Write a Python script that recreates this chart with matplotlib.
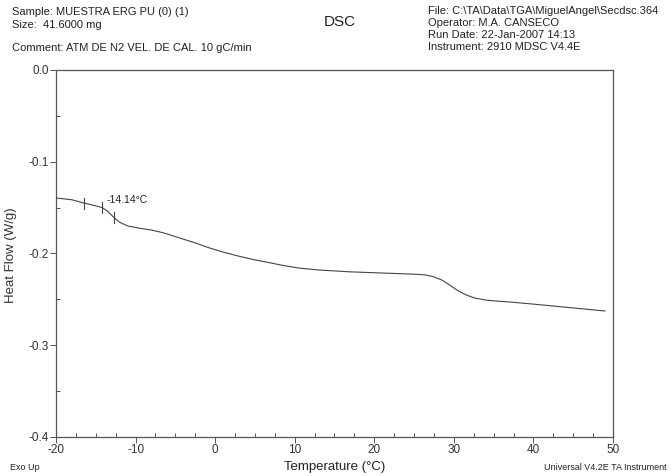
import numpy as np
import matplotlib.pyplot as plt
from matplotlib.ticker import MultipleLocator

plt.rcParams['font.family'] = ['Liberation Sans', 'DejaVu Sans']

# heat flow trace read from the DSC run
temp = [-20.0, -18.0, -16.5, -15.5, -14.2, -13.5, -12.7, -12.0, -11.0, -9.5,
        -8.0, -6.5, -4.5, -2.5, -0.7, 1.0, 3.0, 5.0, 6.8, 8.5, 10.6, 13.0,
        16.9, 20.0, 23.2, 25.5, 26.5, 27.5, 28.5, 29.5, 30.5, 31.5, 32.5,
        34.0, 35.5, 37.4, 40.0, 43.0, 46.0, 49.0]
heat_flow = [-0.1395, -0.1415, -0.1450, -0.1470, -0.1500, -0.1540, -0.1610,
             -0.1660, -0.1700, -0.1725, -0.1745, -0.1775, -0.1830, -0.1885,
             -0.1940, -0.1985, -0.2030, -0.2070, -0.2100, -0.2130, -0.2160,
             -0.2180, -0.2200, -0.2210, -0.2220, -0.2228, -0.2235, -0.2255,
             -0.2290, -0.2345, -0.2405, -0.2450, -0.2483, -0.2508, -0.2520,
             -0.2532, -0.2552, -0.2577, -0.2602, -0.2627]

# onset analysis marks
onset_marks = [-16.5, -14.2, -12.7]
onset_label = '-14.14°C'

xticks = [-20, -10, 0, 10, 20, 30, 40, 50]
yticks = [0.0, -0.1, -0.2, -0.3, -0.4]

fig = plt.figure(figsize=(6.71, 4.76), dpi=100)
ax = fig.add_axes([0.0835, 0.082, 0.830, 0.771])

ax.plot(temp, heat_flow, color='#444444', lw=0.8)

for t in onset_marks:
    y = np.interp(t, temp, heat_flow)
    ax.plot([t, t], [y + 0.006, y - 0.006], color='#444444', lw=0.8)
ax.text(onset_marks[1] + 0.5, np.interp(onset_marks[1], temp, heat_flow) + 0.003,
        onset_label, fontsize=7.5, color='#222222', va='bottom')

ax.set_xlim(-20, 50)
ax.set_ylim(-0.4, 0.0)
ax.set_xticks(xticks)
ax.set_xticklabels([str(v) for v in xticks])
ax.set_yticks(yticks)
ax.set_yticklabels(['%.1f' % v for v in yticks])
ax.xaxis.set_minor_locator(MultipleLocator(2.5))
ax.yaxis.set_minor_locator(MultipleLocator(0.05))
ax.tick_params(which='major', direction='out', length=4, width=0.7,
               color='#555555', labelsize=8.5, labelcolor='#333333', pad=1)
ax.tick_params(which='minor', direction='in', length=3, width=0.7, color='#555555')
for s in ax.spines.values():
    s.set_color('#555555')
    s.set_linewidth(0.9)

fig.text(335 / 671, 1 - 467 / 476, 'Temperature (°C)', ha='center', va='center',
         fontsize=9.5, color='#222222')
fig.text(11 / 671, 1 - 255 / 476, 'Heat Flow (W/g)', ha='center', va='center',
         rotation=90, fontsize=9.5, color='#333333')

# header block
hdr = dict(fontsize=8, color='#222222', va='center')
fig.text(12 / 671, 1 - 12 / 476, 'Sample: MUESTRA ERG PU (0) (1)', **hdr)
fig.text(12 / 671, 1 - 25 / 476, 'Size:  41.6000 mg', **hdr)
fig.text(12 / 671, 1 - 48 / 476, 'Comment: ATM DE N2 VEL. DE CAL. 10 gC/min', **hdr)
fig.text(340 / 671, 1 - 22 / 476, 'DSC', ha='center', va='center', fontsize=11,
         color='#222222')
fig.text(428 / 671, 1 - 11 / 476, 'File: C:\\TA\\Data\\TGA\\MiguelAngel\\Secdsc.364', **hdr)
fig.text(428 / 671, 1 - 23 / 476, 'Operator: M.A. CANSECO', **hdr)
fig.text(428 / 671, 1 - 35 / 476, 'Run Date: 22-Jan-2007 14:13', **hdr)
fig.text(428 / 671, 1 - 47 / 476, 'Instrument: 2910 MDSC V4.4E', **hdr)

fig.text(10 / 671, 1 - 467 / 476, 'Exo Up', fontsize=6.5, va='center', color='#222222')
fig.text(667 / 671, 1 - 467 / 476, 'Universal V4.2E TA Instrument', fontsize=6.5,
         ha='right', va='center', color='#222222')

fig.savefig('out.png', dpi=100)
